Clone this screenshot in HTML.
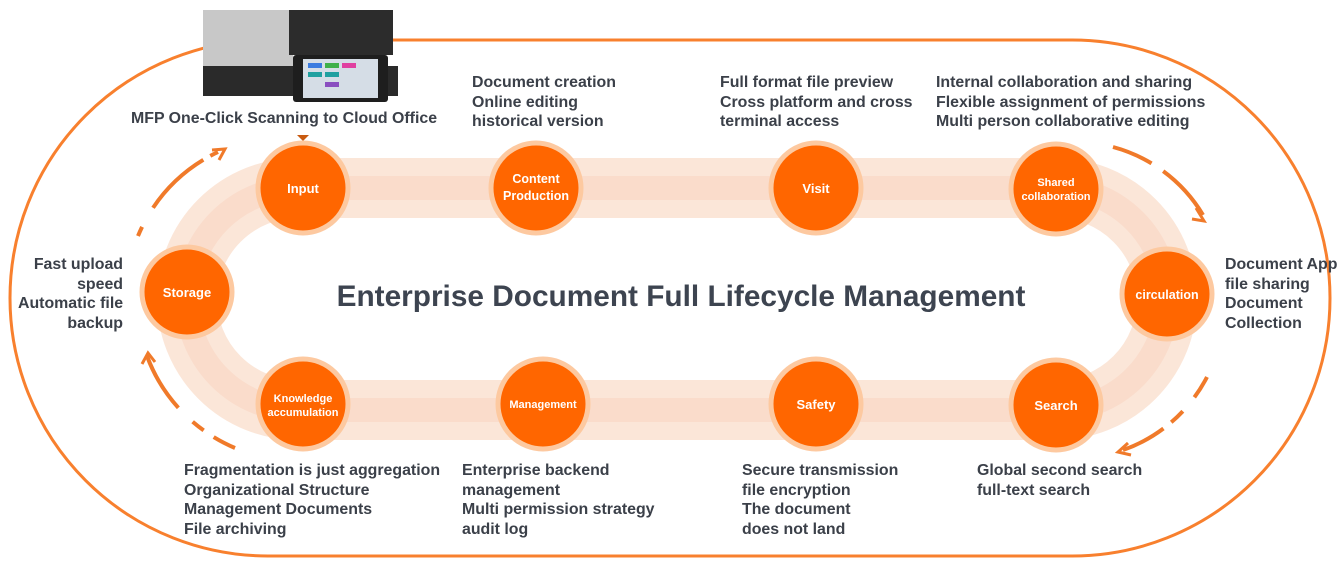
<!DOCTYPE html>
<html><head><meta charset="utf-8"><style>
body{margin:0;width:1340px;height:564px;background:#fff;overflow:hidden;position:relative;font-family:"Liberation Sans",Arial,sans-serif}
.t{position:absolute;font-weight:bold;font-size:15.9px;line-height:19.5px;color:#3b4049;white-space:nowrap}
</style></head><body>
<svg width="1340" height="564" style="position:absolute;left:0;top:0">
<defs>
<linearGradient id="g" x1="0" y1="0" x2="0" y2="1"><stop offset="0" stop-color="#fcebe0"/><stop offset=".5" stop-color="#fbe0cf"/><stop offset="1" stop-color="#fdefe6"/></linearGradient>
</defs>
<path d="M268 40 H1072 A258 258 0 0 1 1072 556 H268 A258 258 0 0 1 268 40 Z" fill="none" stroke="#f8802e" stroke-width="3"/>
<path d="M298 188 H1056 A111 111 0 0 1 1056 410 H298 A111 111 0 0 1 298 188 Z" fill="none" stroke="#fbe6d8" stroke-width="60"/>
<path d="M298 188 H1056 A111 111 0 0 1 1056 410 H298 A111 111 0 0 1 298 188 Z" fill="none" stroke="#fadccb" stroke-width="24"/>
<rect x="203" y="10" width="90" height="58" fill="#c8c8c8"/>
<rect x="289" y="10" width="104" height="45" fill="#2c2c2c"/>
<rect x="203" y="66" width="195" height="30" fill="#2a2a2a"/>
<rect x="293" y="55" width="95" height="47" rx="3" fill="#1e1e1e"/>
<rect x="303" y="59" width="75" height="39" fill="#d5dde6"/>
<rect x="308" y="63" width="14" height="5" fill="#3a7be0"/><rect x="325" y="63" width="14" height="5" fill="#3fb04a"/><rect x="342" y="63" width="14" height="5" fill="#e040a0"/>
<rect x="308" y="72" width="14" height="5" fill="#20a0a0"/><rect x="325" y="72" width="14" height="5" fill="#20a0a0"/><rect x="325" y="82" width="14" height="5" fill="#8a4fc0"/>
<polygon points="297,135 309,135 303,141" fill="#c85a10"/>
<g fill="none" stroke="#f07a2a" stroke-width="4">
<path d="M138 236 A160 160 0 0 1 218 152" stroke-dasharray="10 22 70 8"/>
<path d="M1113 147 A150 150 0 0 1 1203 215" stroke-dasharray="42 14 60"/>
<path d="M1207 377 A150 150 0 0 1 1123 450" stroke-dasharray="24 18 16 10 60"/>
<path d="M235 448 A160 160 0 0 1 147 356" stroke-dasharray="24 12 14 20 70"/>
</g>
<g fill="none" stroke="#f07a2a" stroke-width="3">
<path d="M212 150 L225 149 L219 160"/>
<path d="M1196 208 L1204 221 L1192 219"/>
<path d="M1128 443 L1118 452 L1131 455"/>
<path d="M142 364 L148 353 L155 362"/>
</g>
<g fill="#ff6600" stroke="#fdc9a0" stroke-width="5">
<circle cx="303" cy="188" r="45"/><circle cx="536" cy="188" r="45"/><circle cx="816" cy="188" r="45"/><circle cx="1056" cy="189" r="45"/>
<circle cx="1167" cy="294" r="45"/><circle cx="1056" cy="405" r="45"/><circle cx="816" cy="404" r="45"/><circle cx="543" cy="404" r="45"/>
<circle cx="303" cy="404" r="45"/><circle cx="187" cy="292" r="45"/>
</g>
<g fill="#fff" font-weight="bold" font-family="Liberation Sans,Arial,sans-serif" text-anchor="middle">
<text x="303" y="193" font-size="13">Input</text>
<text x="536" y="183" font-size="12.5">Content</text><text x="536" y="200" font-size="12.5">Production</text>
<text x="816" y="193" font-size="13">Visit</text>
<text x="1056" y="186" font-size="11">Shared</text><text x="1056" y="200" font-size="11">collaboration</text>
<text x="1167" y="299" font-size="12.5">circulation</text>
<text x="1056" y="410" font-size="13">Search</text>
<text x="816" y="409" font-size="13">Safety</text>
<text x="543" y="408" font-size="11">Management</text>
<text x="303" y="402" font-size="11">Knowledge</text><text x="303" y="416" font-size="11">accumulation</text>
<text x="187" y="297" font-size="13">Storage</text>
</g>
<text x="681" y="306" text-anchor="middle" font-family="Liberation Sans,Arial,sans-serif" font-weight="bold" font-size="29.8" fill="#3d4450">Enterprise Document Full Lifecycle Management</text>
</svg>
<div class="t" style="left:131px;top:109px">MFP One-Click Scanning to Cloud Office</div>
<div class="t" style="left:472px;top:73px">Document creation<br>Online editing<br>historical version</div>
<div class="t" style="left:720px;top:73px">Full format file preview<br>Cross platform and cross<br>terminal access</div>
<div class="t" style="left:936px;top:73px">Internal collaboration and sharing<br>Flexible assignment of permissions<br>Multi person collaborative editing</div>
<div class="t" style="left:18px;top:255px;text-align:right;width:105px">Fast upload<br>speed<br>Automatic file<br>backup</div>
<div class="t" style="left:1225px;top:255px">Document App<br>file sharing<br>Document<br>Collection</div>
<div class="t" style="left:184px;top:461px">Fragmentation is just aggregation<br>Organizational Structure<br>Management Documents<br>File archiving</div>
<div class="t" style="left:462px;top:461px">Enterprise backend<br>management<br>Multi permission strategy<br>audit log</div>
<div class="t" style="left:742px;top:461px">Secure transmission<br>file encryption<br>The document<br>does not land</div>
<div class="t" style="left:977px;top:461px">Global second search<br>full-text search</div>
</body></html>
